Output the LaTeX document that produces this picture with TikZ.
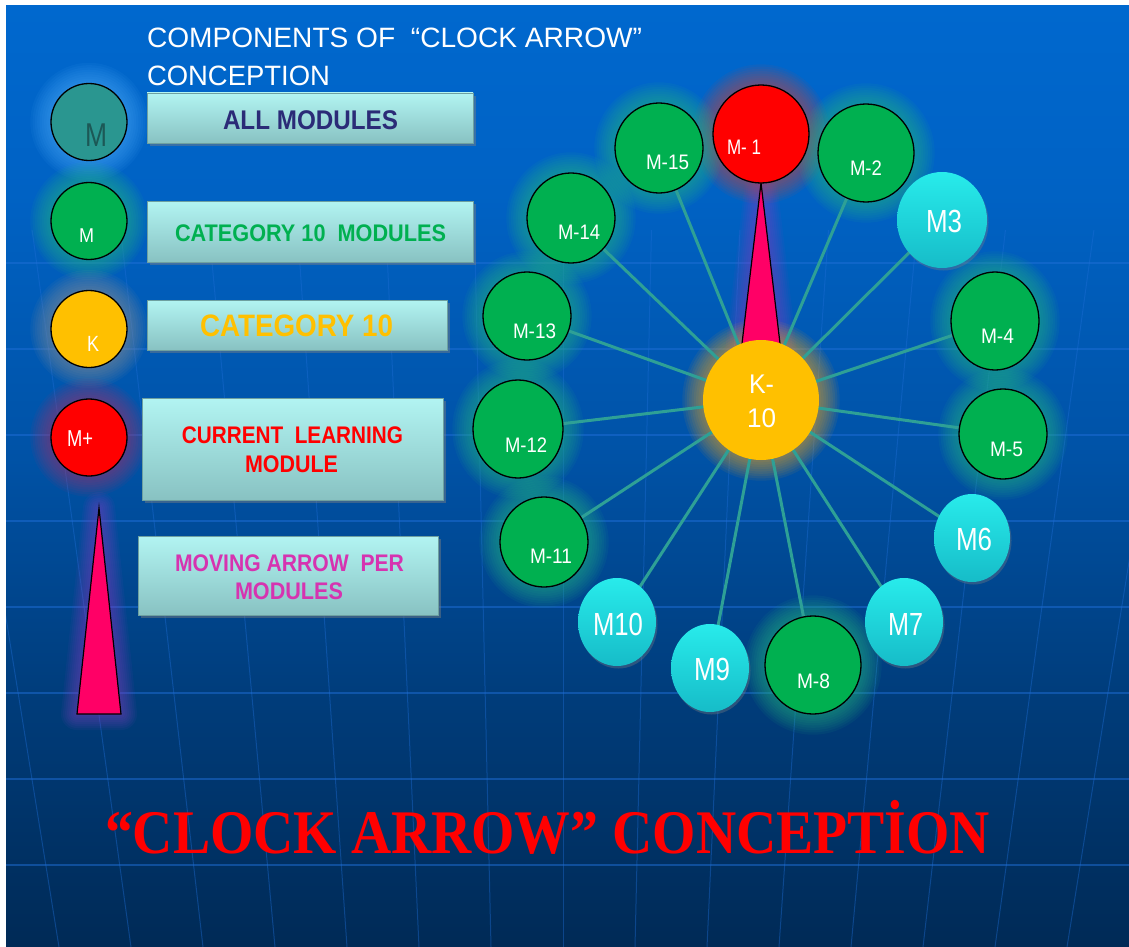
\documentclass[tikz,border=0pt]{standalone}
\usepackage{fontspec}
\usepackage{graphicx}
\setmainfont{Liberation Sans}
\newfontfamily\titleserif{Liberation Serif}
\usetikzlibrary{shapes.geometric,shadows,calc}

% palette
\definecolor{bgtop}{RGB}{0,104,206}
\definecolor{bgup}{RGB}{0,98,196}
\definecolor{bgmid}{RGB}{0,82,166}
\definecolor{bgdeep}{RGB}{0,60,122}
\definecolor{bgbot}{RGB}{0,42,86}
\definecolor{gridc}{RGB}{30,110,215}
\definecolor{modgreen}{RGB}{0,176,80}
\definecolor{modred}{RGB}{255,0,0}
\definecolor{kyellow}{RGB}{255,192,0}
\definecolor{tealM}{RGB}{42,150,144}
\definecolor{tealtext}{RGB}{28,88,86}
\definecolor{ballhi}{RGB}{40,235,235}
\definecolor{balllo}{RGB}{22,188,200}
\definecolor{linkc}{RGB}{46,160,150}
\definecolor{arrowpink}{RGB}{255,0,102}
\definecolor{navytext}{RGB}{43,43,119}
\definecolor{magtext}{RGB}{214,51,176}
\definecolor{boxhi}{RGB}{178,244,242}
\definecolor{boxlo}{RGB}{136,194,194}
\definecolor{boxedge}{RGB}{110,160,160}
\definecolor{gglow}{RGB}{40,190,130}
\definecolor{rglow}{RGB}{210,70,60}
\definecolor{oglow}{RGB}{255,170,20}
\definecolor{bglow}{RGB}{80,175,255}
\definecolor{grglow}{RGB}{150,150,150}
\definecolor{pglow}{RGB}{140,60,200}
\definecolor{mglow}{RGB}{170,50,110}

% slide background ramp (bounding box maps to 25bp..75bp)
\pgfdeclareverticalshading{slidebg}{100bp}{color(0bp)=(bgbot); color(25bp)=(bgbot); color(38bp)=(bgdeep); color(51bp)=(bgmid); color(65bp)=(bgup); color(75bp)=(bgtop); color(100bp)=(bgtop)}

\pgfdeclarelayer{backl}
\pgfdeclarelayer{glowl}
\pgfdeclarelayer{linkl}
\pgfsetlayers{backl,glowl,linkl,main}

% squeeze a text to a given width, keeping its height
\newcommand{\fitw}[2]{\resizebox{#1pt}{\height}{#2}}
% soft halo around an elliptic node
\newcommand{\haloat}[4]{%
  \foreach \k in {1,...,9}{%
    \fill[#4,opacity=0.07] (#1.center) ellipse [x radius={(#2+2.3*\k)*1pt}, y radius={(#3+2.3*\k)*1pt}];}}

\begin{document}
\begin{tikzpicture}[x=1pt,y=-1pt,
  every node/.style={inner sep=0pt, outer sep=0pt},
  rad/.style 2 args={minimum width={2*#1}, minimum height={2*#2}},
  disc/.style={ellipse, draw=black, line width=1.3pt},
  greenmod/.style={disc, fill=modgreen},
  cyanball/.style={ellipse, top color=ballhi, bottom color=balllo,
    drop shadow={shadow xshift=1.5pt, shadow yshift=-2.5pt, opacity=0.35}},
  legbox/.style={rectangle, top color=boxhi, bottom color=boxlo, draw=boxedge, line width=0.8pt,
    drop shadow={shadow xshift=3pt, shadow yshift=-3pt, opacity=0.45}},
  lbl/.style={text=white, font=\fontsize{21}{24}\selectfont},
  biglbl/.style={text=white, font=\fontsize{32}{36}\selectfont},
  boxtxt/.style={font=\bfseries\fontsize{24}{28}\selectfont},
  link/.style={draw=linkc, line width=3pt},
  gridline/.style={draw=gridc, opacity=0.5},
]
\useasboundingbox (0,0) rectangle (1129,947);

% ---------- background ----------
\begin{pgfonlayer}{backl}
  \fill[white] (0,0) rectangle (1129,947);
  \shade[shading=slidebg] (6,6) rectangle (1129,947);
  \foreach \yy in {263,349,...,865}
    \draw[gridline, line width=1.6pt] (6,\yy) -- (1129,\yy);
  \begin{scope}
    \clip (6,6) rectangle (1129,947);
    \foreach \n in {-7,...,7}
      \draw[gridline, opacity=0.4, line width=1pt]
        ({563+\n*(72+0.023*717)}, 230) -- ({563+\n*72}, 947);
  \end{scope}
\end{pgfonlayer}

% ---------- header ----------
\node[anchor=west, text=white, font=\fontsize{28}{32}\selectfont] (hdr1) at (147,38)
  {\fitw{495}{COMPONENTS OF\ \ “CLOCK ARROW”}};
\node[anchor=west, text=white, font=\fontsize{28}{32}\selectfont] (hdr2) at (147,75.5)
  {\fitw{183}{CONCEPTION}};

% ---------- legend ----------
\node[disc, fill=tealM, rad={38}{38.5}] (lgall) at (89,122) {};
\node[disc, fill=modgreen, rad={38}{38.5}] (lgcat) at (89,221) {};
\node[disc, fill=kyellow, rad={38}{38.5}] (lgk) at (89,329) {};
\node[disc, fill=modred, rad={38}{38.5}] (lgcur) at (89,437.5) {};

\node[text=tealtext, font=\fontsize{33}{36}\selectfont] (lgallt) at (96,135) {\fitw{22}{M}};
\node[text=white, font=\fontsize{20}{24}\selectfont] (lgcatt) at (86.5,235.5) {\fitw{15}{M}};
\node[text=white, font=\fontsize{22}{24}\selectfont] (lgkt) at (93,344) {\fitw{12}{K}};
\node[text=white, font=\fontsize{23}{26}\selectfont] (lgcurt) at (80,438.5) {\fitw{26}{M+}};

\coordinate (ltip) at (99,508);
\coordinate (lleft) at (77,714);
\coordinate (lright) at (121,714);

\node[legbox, minimum width=326, minimum height=50] (box1) at (310,118) {};
\node[legbox, minimum width=326, minimum height=61] (box2) at (310,231.5) {};
\node[legbox, minimum width=300, minimum height=50] (box3) at (297,325) {};
\node[legbox, minimum width=301, minimum height=102] (box4) at (292.5,449) {};
\node[legbox, minimum width=300, minimum height=79] (box5) at (288,575.5) {};

\node[boxtxt, text=navytext, font=\bfseries\fontsize{27}{30}\selectfont] (box1t) at (310.5,120) {\fitw{175}{ALL MODULES}};
\node[boxtxt, text=modgreen] (box2t) at (310.5,233.5) {\fitw{271}{CATEGORY 10\ \ MODULES}};
\node[boxtxt, text=kyellow, font=\bfseries\fontsize{31}{34}\selectfont] (box3t) at (296.5,326) {\fitw{193}{CATEGORY 10}};
\node[boxtxt, text=modred] (box4a) at (292.5,435) {\fitw{221}{CURRENT\ \ LEARNING}};
\node[boxtxt, text=modred] (box4b) at (291.5,464) {\fitw{93}{MODULE}};
\node[boxtxt, text=magtext] (box5a) at (289.5,563.5) {\fitw{229}{MOVING ARROW\ \ PER}};
\node[boxtxt, text=magtext] (box5b) at (289,591.5) {\fitw{108}{MODULES}};

% ---------- clock ----------
\node[ellipse, fill=kyellow, rad={58}{60}] (k10) at (761,400) {};
\node[disc, fill=modred, rad={48}{49}] (m1) at (761,134) {};
\node[greenmod, rad={48}{49}] (m2) at (866,153) {};
\node[cyanball, rad={45}{48}] (m3) at (942,220) {};
\node[greenmod, rad={44}{49}] (m4) at (995,321) {};
\node[greenmod, rad={44}{45}] (m5) at (1003,434) {};
\node[cyanball, rad={38}{44}] (m6) at (972,538) {};
\node[cyanball, rad={39}{44}] (m7) at (904,622) {};
\node[greenmod, rad={48}{49}] (m8) at (813,665) {};
\node[cyanball, rad={39}{44}] (m9) at (710,668) {};
\node[cyanball, rad={39}{44}] (m10) at (617,622) {};
\node[greenmod, rad={44}{45}] (m11) at (544,542) {};
\node[greenmod, rad={45}{49}] (m12) at (518,429) {};
\node[greenmod, rad={44}{44}] (m13) at (527,316) {};
\node[greenmod, rad={44}{45}] (m14) at (571,218) {};
\node[greenmod, rad={44}{45}] (m15) at (659,148) {};

\node[lbl] (m1t) at (744,147.5) {\fitw{34}{M- 1}};
\node[lbl] (m2t) at (866,168) {\fitw{32}{M-2}};
\node[biglbl] (m3t) at (944,221.5) {\fitw{36}{M3}};
\node[lbl] (m4t) at (997.5,336.5) {\fitw{33}{M-4}};
\node[lbl] (m5t) at (1006.5,449) {\fitw{33}{M-5}};
\node[biglbl] (m6t) at (974,539.5) {\fitw{36}{M6}};
\node[biglbl] (m7t) at (905.5,624) {\fitw{35}{M7}};
\node[lbl] (m8t) at (813.5,681) {\fitw{33}{M-8}};
\node[biglbl] (m9t) at (712,669.5) {\fitw{36}{M9}};
\node[biglbl] (m10t) at (618,624) {\fitw{50}{M10}};
\node[lbl] (m11t) at (551,556.5) {\fitw{42}{M-11}};
\node[lbl] (m12t) at (526,445) {\fitw{42}{M-12}};
\node[lbl] (m13t) at (534.5,331) {\fitw{43}{M-13}};
\node[lbl] (m14t) at (579,232.5) {\fitw{42}{M-14}};
\node[lbl] (m15t) at (667.5,162.5) {\fitw{43}{M-15}};
\node[text=white, font=\fontsize{27}{30}\selectfont] (k10a) at (761.5,384.5) {\fitw{25}{K-}};
\node[text=white, font=\fontsize{27}{30}\selectfont] (k10b) at (761.5,418) {\fitw{29}{10}};

\coordinate (abl) at (741,352);
\coordinate (abr) at (781,352);

% ---------- halos ----------
\begin{pgfonlayer}{glowl}
  \haloat{lgall}{38}{38.5}{bglow}
  \haloat{lgcat}{38}{38.5}{gglow}
  \haloat{lgk}{38}{38.5}{grglow}
  \haloat{lgcur}{38}{38.5}{mglow}
  \foreach \w in {4,8,...,32}
    \draw[pglow, opacity=0.07, line width=\w pt, line join=round] (ltip) -- (lleft) -- (lright) -- cycle;
  \foreach \w in {4,8,...,32}
    \draw[pglow, opacity=0.07, line width=\w pt, line join=round] (m1.south) -- (abl) -- (abr) -- cycle;
  \haloat{k10}{58}{60}{oglow}
  \haloat{m1}{48}{49}{rglow}
  \foreach \m/\a/\b in {m2/48/49, m4/44/49, m5/44/45, m8/48/49, m11/44/45, m12/45/49, m13/44/44, m14/44/45, m15/44/45}
    {\haloat{\m}{\a}{\b}{gglow}}
\end{pgfonlayer}

% ---------- spokes and the clock arrow ----------
\begin{pgfonlayer}{linkl}
  \foreach \m in {m2,m3,m4,m5,m6,m7,m8,m9,m10,m11,m12,m13,m14,m15}
    \draw[link] (k10.center) -- (\m.center);
  \filldraw[fill=arrowpink, draw=black, line width=1.2pt, line join=miter] (m1.south) -- (abl) -- (abr) -- cycle;
  \filldraw[fill=arrowpink, draw=black, line width=1.2pt] (ltip) -- (lleft) -- (lright) -- cycle;
\end{pgfonlayer}

% ---------- caption ----------
\node[anchor=base west, text=modred, font=\titleserif\bfseries\fontsize{62}{70}\selectfont] (caption) at (105,853)
  {\fitw{885}{“CLOCK ARROW” CONCEPTİON}};
\end{tikzpicture}
\end{document}
